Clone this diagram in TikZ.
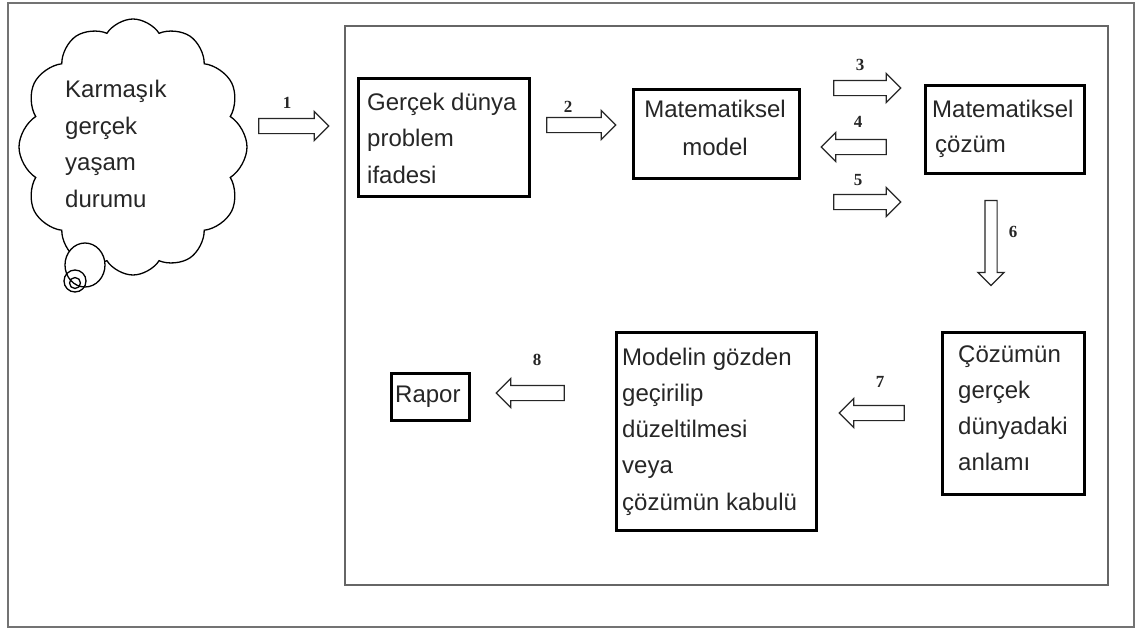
\documentclass[tikz,border=0pt]{standalone}
\usepackage{fontspec}
\setmainfont{Liberation Sans}
\newfontfamily\numfont{Liberation Serif}
\usetikzlibrary{shapes.arrows,shapes.symbols}
\begin{document}
\begin{tikzpicture}[x=1pt,y=-1pt,
  box/.style={draw=black, line width=2.8pt, rectangle, inner sep=0pt, anchor=north west},
  % multi-line texts are placed by the baseline of their last line
  txt/.style={inner sep=0pt, align=left, anchor=base west, font=\fontsize{24}{36.5}\selectfont, text=black!85},
  fat/.style={single arrow, draw=black!85, line width=1.2pt, fill=white, inner sep=0pt,
    text height=14pt, text depth=0pt, minimum width=28pt,
    single arrow head extend=7pt, single arrow tip angle=90},
  slim/.style={fat, text height=11pt, minimum width=25pt},
  num/.style={inner sep=0pt, font=\numfont\bfseries\fontsize{17}{17}\selectfont, text=black!85}]
\useasboundingbox (0,0) rectangle (1144,630);
\fill[white] (0,0) rectangle (1144,630);

% frames
\draw[black!55, line width=2pt] (8,3) rectangle (1134,627);
\draw[black!60, line width=1.5pt] (345,26) rectangle (1108,585);

% cloud with its thought bubble
\node[cloud, draw, fill=white, line width=1.3pt, cloud puffs=12, cloud puff arc=115,
  aspect=0.9, minimum width=228pt, minimum height=256pt, inner sep=0pt] (cloud) at (133,147) {};
\draw[line width=1.3pt, fill=white] (85,265) ellipse [x radius=20, y radius=22];
\draw[line width=1.3pt] (75,281) circle [radius=11];
\draw[line width=1.3pt] (75,283) circle [radius=5.5];
\node[txt] (cloudtext) at (65,207) {Karmaşık\\gerçek\\yaşam\\durumu};

% boxes
\node[box, minimum width=171pt, minimum height=118pt] (b1) at (357,77) {};
\node[txt] (t1) at (367,183) {Gerçek dünya\\problem\\ifadesi};

\node[box, minimum width=166pt, minimum height=89pt] (b2) at (632,88) {};
\node[txt, align=center, anchor=base, font=\fontsize{24}{38}\selectfont] (t2) at (715,155) {Matematiksel\\model};

\node[box, minimum width=159pt, minimum height=88pt] (b3) at (924,84) {};
\node[txt, font=\fontsize{24}{35}\selectfont] (t3) at (932,152) {Matematiksel\\\hspace*{3pt}çözüm};

\node[box, minimum width=142pt, minimum height=162pt] (b4) at (941,331) {};
\node[txt, font=\fontsize{24}{35.7}\selectfont] (t4) at (958,470) {Çözümün\\gerçek\\dünyadaki\\anlamı};

\node[box, minimum width=200pt, minimum height=198pt] (b5) at (615,331) {};
\node[txt, font=\fontsize{24}{36.2}\selectfont] (t5) at (622,510) {Modelin gözden\\geçirilip\\düzeltilmesi\\veya\\çözümün kabulü};

\node[box, minimum width=78pt, minimum height=47pt] (b6) at (390,372) {};
\node[txt] (t6) at (395,402) {Rapor};

% step arrows
\node[fat, minimum height=70pt] (a1) at (290,126) {};
\node[fat, minimum height=69pt] (a2) at (577.5,125) {};
\node[fat, minimum height=67pt] (a3) at (863.5,88) {};
\node[fat, minimum height=65pt, rotate=180] (a4) at (857.5,147) {};
\node[fat, minimum height=67pt] (a5) at (863.5,202) {};
\node[slim, minimum height=85pt, rotate=-90] (a6) at (991,240) {};
\node[fat, minimum height=65pt, rotate=180] (a7) at (875.5,413) {};
\node[fat, minimum height=68pt, rotate=180] (a8) at (534,393) {};

% step numbers
\node[num] (n1) at (287,103) {1};
\node[num] (n2) at (568,107) {2};
\node[num] (n3) at (860,65) {3};
\node[num] (n4) at (858,122) {4};
\node[num] (n5) at (858,180) {5};
\node[num] (n6) at (1013,232) {6};
\node[num] (n7) at (880,382) {7};
\node[num] (n8) at (537,360) {8};
\end{tikzpicture}
\end{document}
